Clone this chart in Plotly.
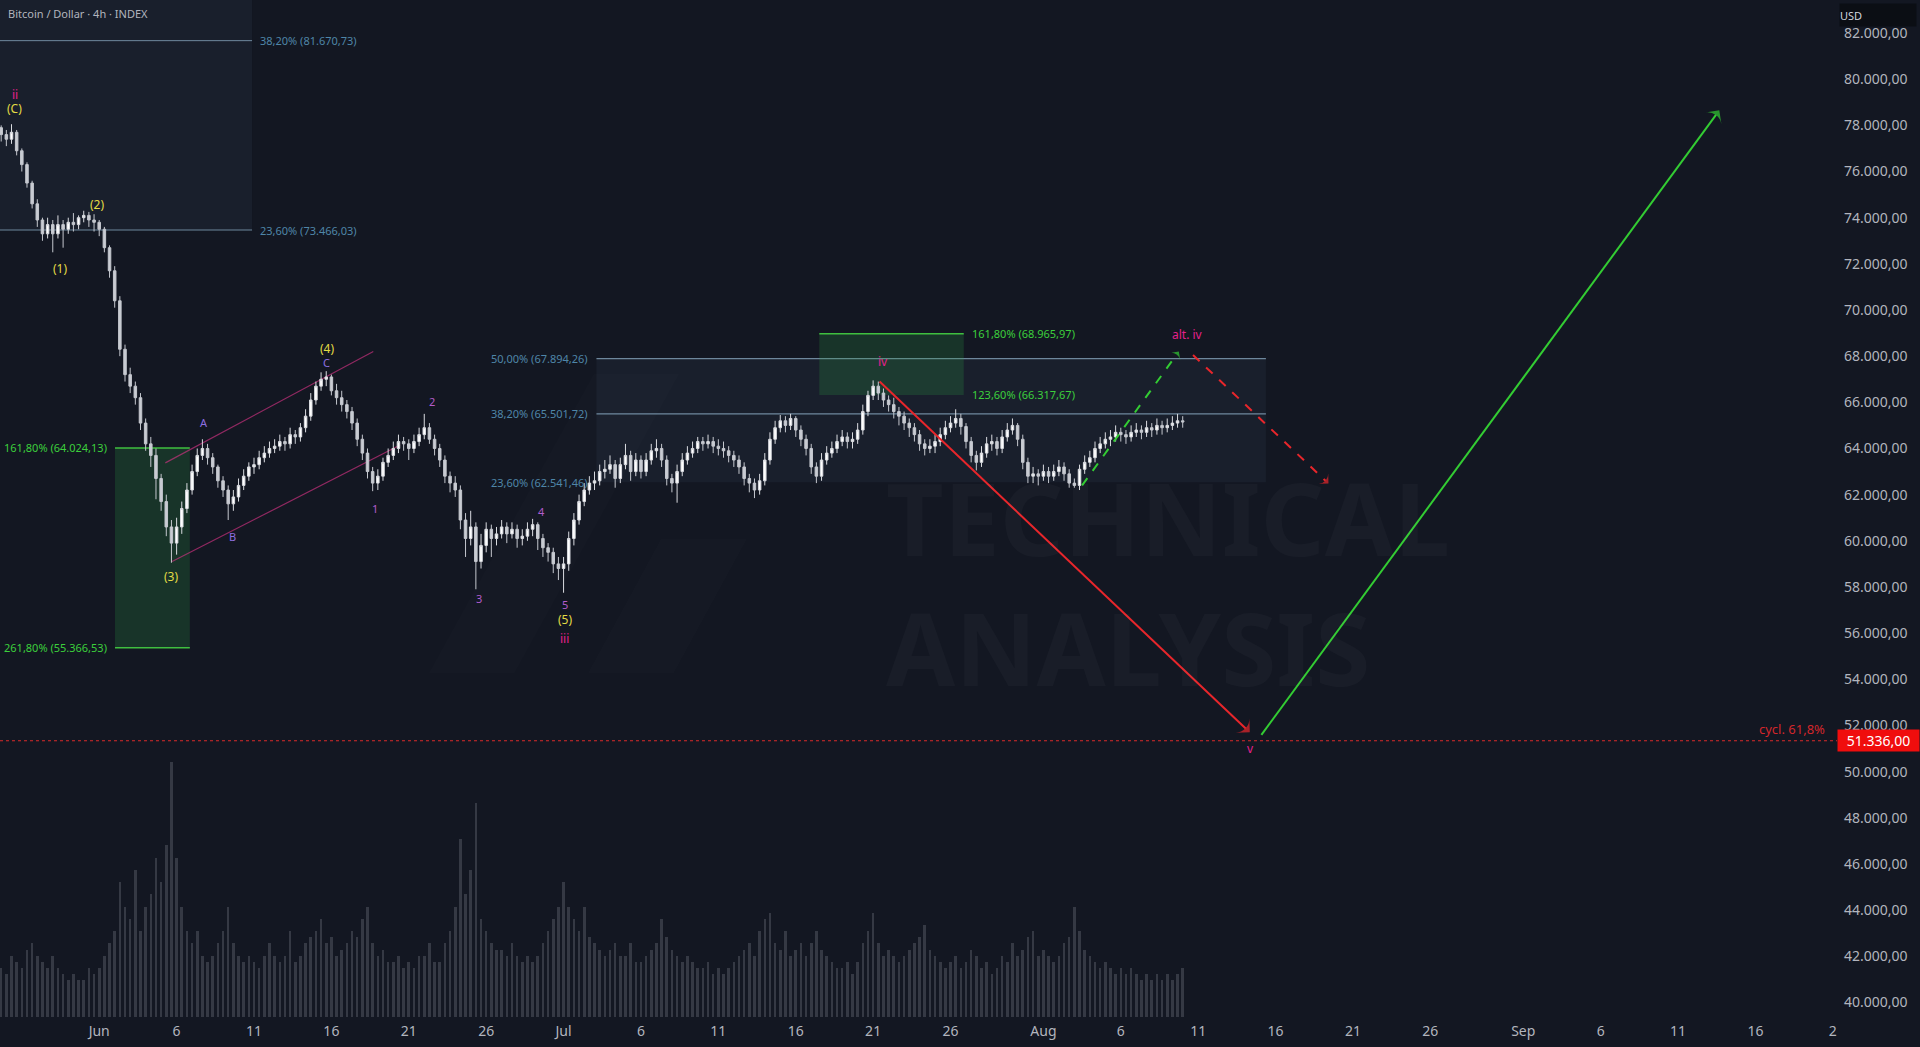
import plotly.graph_objects as go
import pandas as pd

BG = "#131722"
FONT = "Noto Sans"

title_text = "Bitcoin / Dollar · 4h · INDEX"
watermark_lines = ["TECHNICAL", "ANALYSIS"]

# ---------------- candle data (8h steps) ----------------
candle_start = "2024-05-25 16:00"
first_open = 77900
close = [
    77600,
    77400, 77700, 76900, 76300, 75500, 74600, 73900, 73300, 73700,
    73300, 73700, 73500, 73800, 73700, 74000, 74100, 73900, 73800,
    73500, 72700, 71700, 70400, 68300, 67200, 66700, 66200, 65100,
    64200, 63700, 62700, 61700, 60600, 59900, 60600, 61400, 62200,
    63000, 63700, 64000, 63600, 63200, 62600, 62200, 61600, 61900,
    62400, 62800, 63200, 63300, 63600, 63800, 64000, 64100, 64300,
    64200, 64600, 64500, 64900, 65400, 66100, 66700, 67000, 67100,
    66500, 66200, 65900, 65600, 65100, 64400, 63800, 63000, 62500,
    62800, 63400, 63700, 64000, 64300, 64200, 64000, 64300, 64600,
    64900, 64400, 64000, 63500, 62800, 62500, 62200, 60900, 60100,
    60600, 59100, 59800, 60500, 60100, 60300, 60600, 60300, 60500,
    60100, 60200, 60500, 60700, 60100, 59700, 59500, 59000, 58800,
    59000, 60100, 60900, 61700, 62200, 62500, 62600, 63000, 63100,
    63300, 62700, 63300, 63700, 63000, 63500, 63000, 63500, 63900,
    64000, 63500, 62700, 62500, 63000, 63500, 63800, 64000, 64300,
    64200, 64300, 64100, 64000, 63900, 63700, 63500, 63200, 62700,
    62500, 62200, 62600, 63500, 64400, 64900, 65200, 65000, 65300,
    64800, 64400, 64000, 63200, 62800, 63500, 63800, 64000, 64300,
    64500, 64300, 64400, 64800, 65600, 66300, 66700, 66400, 66100,
    65900, 65600, 65400, 65100, 64900, 64600, 64200, 64000, 64100,
    64300, 64600, 64900, 65100, 65300, 64950, 64300, 63700, 63400,
    63800, 64200, 64300, 64000, 64500, 64800, 65000, 64400, 63400,
    62800, 62900, 62800, 63000, 62800, 63000, 63200, 62900, 62500,
    62400, 63100, 63400, 63600, 64000, 64200, 64400, 64500, 64700,
    64600, 64500, 64700, 64800, 64700, 64900, 64800, 65000, 64900,
    65000, 65100, 65200,
    65150,
]
high = [
    78000,
    77800, 78050, 77800, 77000, 76400, 75600, 74800, 74000, 74000,
    73900, 74100, 73900, 74000, 74200, 74100, 74300, 74250, 74150,
    73900, 73600, 72800, 71900, 70600, 68500, 67500, 66900, 66400,
    65300, 64500, 64000, 62900, 62000, 60900, 61000, 61700, 62500,
    63300, 64000, 64400, 64200, 63800, 63300, 62800, 62400, 62200,
    62700, 63100, 63400, 63600, 63900, 64100, 64300, 64400, 64600,
    64500, 64900, 64800, 65100, 65700, 66400, 66900, 67300, 67350,
    67200, 66800, 66500, 66100, 65800, 65300, 64600, 64000, 63200,
    63100, 63600, 64000, 64300, 64600, 64500, 64400, 64600, 64900,
    65500, 65100, 64600, 64200, 63700, 63000, 62800, 62400, 61200,
    61300, 60800, 60300, 60800, 60700, 60600, 60900, 60800, 60800,
    60700, 60500, 60800, 60950, 60800, 60300, 59900, 59700, 59300,
    59300, 60400, 61200, 62000, 62500, 62800, 63000, 63300, 63500,
    63700, 63500, 63600, 64200, 63900, 63800, 63700, 63800, 64200,
    64400, 64200, 63700, 62900, 63300, 63800, 64100, 64300, 64500,
    64500, 64600, 64500, 64400, 64300, 64100, 63900, 63700, 63400,
    62900, 62700, 62900, 63800, 64700, 65200, 65450, 65400, 65500,
    65400, 65000, 64600, 64200, 63400, 63800, 64100, 64300, 64600,
    64800, 64700, 64700, 65100, 65900, 66500, 66950, 66900, 66600,
    66300, 66200, 65800, 65600, 65300, 65100, 64800, 64400, 64400,
    64600, 64900, 65200, 65400, 65700, 65500, 65100, 64500, 63900,
    64100, 64500, 64600, 64500, 64800, 65100, 65300, 65100, 64600,
    63600, 63200, 63100, 63300, 63200, 63300, 63500, 63400, 63100,
    62700, 63300, 63700, 63900, 64300, 64500, 64700, 64800, 65000,
    64900, 64800, 65000, 65100, 65000, 65200, 65100, 65300, 65200,
    65300, 65400, 65500,
    65400,
]
low = [
    77300,
    77100, 77200, 76700, 76000, 75300, 74400, 73600, 73000, 73100,
    72500, 73100, 72700, 73300, 73400, 73500, 73800, 73600, 73400,
    73200, 72500, 71400, 70100, 68000, 66900, 66400, 65900, 64800,
    63900, 63200, 61800, 61300, 60200, 59050, 59400, 60300, 61200,
    62000, 62800, 63500, 63300, 62900, 62300, 61900, 60900, 61300,
    61700, 62200, 62600, 62900, 63100, 63400, 63600, 63800, 63900,
    63900, 64000, 64200, 64300, 64700, 65200, 65900, 66500, 66700,
    66300, 65900, 65600, 65300, 64800, 64100, 63500, 62700, 62150,
    62200, 62600, 63200, 63500, 63800, 63900, 63500, 63800, 64100,
    64400, 64200, 63700, 63200, 62500, 62100, 61900, 60500, 59300,
    59800, 57900, 58800, 59500, 59300, 59800, 60100, 59900, 60100,
    59700, 59800, 60000, 60200, 59600, 59300, 59100, 58600, 58300,
    57750, 58700, 59800, 60700, 61500, 62000, 62200, 62400, 62700,
    62900, 62300, 62500, 63100, 62600, 62800, 62700, 62800, 63300,
    63600, 63200, 62400, 62100, 61650, 62800, 63300, 63600, 63800,
    63900, 64000, 63800, 63700, 63600, 63400, 63200, 62900, 62400,
    62100, 61850, 62000, 62400, 63300, 64200, 64700, 64700, 64800,
    64500, 64100, 63700, 62900, 62500, 62600, 63300, 63600, 63800,
    64100, 64000, 64000, 64200, 64600, 65400, 66100, 66100, 65800,
    65600, 65300, 65000, 64800, 64500, 64300, 63900, 63700, 63800,
    63800, 64100, 64400, 64700, 64900, 64600, 64000, 63400, 63050,
    63200, 63600, 63900, 63700, 63800, 64300, 64600, 64100, 63100,
    62500, 62500, 62400, 62600, 62500, 62600, 62800, 62600, 62300,
    62300, 62200, 62900, 63200, 63400, 63800, 64000, 64100, 64300,
    64300, 64200, 64300, 64500, 64400, 64500, 64500, 64600, 64600,
    64700, 64800, 64900,
    64900,
]
volume = [
    400,
    350, 500, 450, 400, 550, 600, 500, 450, 400,
    500, 400, 350, 300, 350, 300, 300, 400, 350,
    400, 500, 600, 700, 1100, 900, 800, 1200, 700,
    900, 1000, 1300, 1100, 1400, 2080, 1300, 900, 700,
    600, 700, 500, 450, 500, 600, 700, 900, 600,
    500, 450, 500, 450, 400, 500, 600, 500, 450,
    500, 700, 450, 500, 600, 650, 700, 800, 600,
    650, 500, 550, 600, 700, 650, 800, 900, 600,
    500, 550, 450, 450, 500, 400, 450, 400, 500,
    500, 600, 450, 450, 600, 700, 900, 1450, 1000,
    1200, 1750, 800, 700, 600, 550, 550, 500, 600,
    500, 450, 500, 450, 500, 600, 700, 800, 900,
    1100, 900, 800, 700, 900, 650, 600, 550, 500,
    550, 600, 500, 500, 600, 450, 450, 500, 550,
    600, 800, 650, 550, 500, 450, 500, 450, 400,
    400, 450, 350, 400, 350, 400, 450, 500, 550,
    600, 500, 700, 800, 850, 600, 550, 700, 500,
    550, 600, 500, 600, 700, 550, 500, 450, 400,
    400, 450, 350, 450, 600, 700, 850, 600, 500,
    550, 500, 450, 500, 550, 600, 650, 750, 550,
    500, 450, 400, 450, 500, 400, 450, 550, 500,
    400, 450, 350, 400, 500, 450, 600, 500, 550,
    650, 700, 500, 550, 500, 450, 500, 600, 650,
    900, 700, 550, 500, 450, 400, 450, 400, 350,
    400, 350, 400, 350, 300, 350, 300, 350, 300,
    350, 300, 350,
    400,
]

# ---------------- fibonacci / box levels ----------------
fib_top_labels = ["38,20% (81.670,73)", "23,60% (73.466,03)"]
fib_top_prices = [81670.73, 73466.03]
fib_top_x = ["2024-05-20 00:00", "2024-06-10 21:00"]

fib_mid_labels = ["50,00% (67.894,26)", "38,20% (65.501,72)", "23,60% (62.541,46)"]
fib_mid_prices = [67894.26, 65501.72, 62541.46]
fib_mid_x = ["2024-07-03 03:00", "2024-08-15 09:00"]

ext_left_labels = ["161,80% (64.024,13)", "261,80% (55.366,53)"]
ext_left_prices = [64024.13, 55366.53]
ext_left_x = ["2024-06-02 00:30", "2024-06-06 20:30"]

ext_mid_labels = ["161,80% (68.965,97)", "123,60% (66.317,67)"]
ext_mid_prices = [68965.97, 66317.67]
ext_mid_x = ["2024-07-17 12:30", "2024-07-26 20:30"]

# ---------------- channel ----------------
chan_up_x = ["2024-06-05 06:30", "2024-06-18 17:00"]
chan_up_y = [63376, 68200]
chan_lo_x = ["2024-06-05 17:00", "2024-06-20 10:30"]
chan_lo_y = [59100, 64150]

# ---------------- projections ----------------
proj_main_x = ["2024-07-21 10:00", "2024-08-14 08:00"]
proj_main_y = [66900, 51700]
proj_up_x = ["2024-08-15 02:00", "2024-09-13 16:00"]
proj_up_y = [51590, 78650]
alt_up_x = ["2024-08-03 12:00", "2024-08-09 18:00"]
alt_up_y = [62400, 68200]
alt_down_x = ["2024-08-10 16:00", "2024-08-19 10:00"]
alt_down_y = [68050, 62480]
target_price = 51336
target_text = "51.336,00"
target_note = "cycl. 61,8%"

# ---------------- wave labels ----------------
wave_text = ["ii", "(C)", "(1)", "(2)", "(3)", "A", "B", "(4)", "C", "1", "2", "3", "4", "5",
             "(5)", "iii", "iv", "alt. iv", "v"]
wave_x = ["2024-05-26 13:00", "2024-05-26 13:00", "2024-05-29 11:00", "2024-05-31 20:00",
          "2024-06-05 16:00", "2024-06-07 19:00", "2024-06-09 15:00", "2024-06-15 17:00",
          "2024-06-15 17:00", "2024-06-18 19:00", "2024-06-22 12:30", "2024-06-25 12:30",
          "2024-06-29 13:30", "2024-07-01 01:30", "2024-07-01 01:30", "2024-07-01 01:30",
          "2024-07-21 15:00", "2024-08-10 08:00", "2024-08-14 09:00"]
wave_y = [79347, 78710, 71813, 74572, 58442, 65127, 60192, 68311, 67727, 61413, 66030,
          57487, 61254, 57221, 56584, 55788, 67780, 68947, 51013]
wave_kind = ["roman", "paren", "paren", "paren", "paren", "abc", "abc", "paren", "abc",
             "digit", "digit", "digit", "digit", "digit", "paren", "roman", "roman", "roman", "roman"]

# ---------------- axes ----------------
X_LEFT = "2024-05-25 14:10"
X_RIGHT = "2024-09-21 06:30"
Y_BOTTOM = 39367
Y_TOP = 83432
x_tick_dates = ["2024-05-26", "2024-06-01", "2024-06-06", "2024-06-11", "2024-06-16", "2024-06-21",
                "2024-06-26", "2024-07-01", "2024-07-06", "2024-07-11", "2024-07-16", "2024-07-21",
                "2024-07-26", "2024-08-01", "2024-08-06", "2024-08-11", "2024-08-16", "2024-08-21",
                "2024-08-26", "2024-09-01", "2024-09-06", "2024-09-11", "2024-09-16", "2024-09-21"]
x_tick_text = ["26", "Jun", "6", "11", "16", "21", "26", "Jul", "6", "11", "16", "21", "26",
               "Aug", "6", "11", "16", "21", "26", "Sep", "6", "11", "16", "2"]
y_tick_vals = list(range(40000, 84000, 2000))


def eu(v):
    return f"{v:,.2f}".replace(",", "X").replace(".", ",").replace("X", ".")


y_tick_text = [eu(v) for v in y_tick_vals]

# ---------------- build ----------------
n = min(len(close), len(high), len(low), len(volume))
times = pd.date_range(candle_start, periods=n, freq="8h")
opens = [first_open] + close[:n - 1]

fig = go.Figure()

fig.add_trace(go.Bar(
    x=times, y=volume[:n], yaxis="y2",
    marker=dict(color="rgba(120,124,136,0.34)", line=dict(width=0)),
    width=8 * 3600 * 1000 * 0.5, hoverinfo="skip",
))

fig.add_trace(go.Candlestick(
    x=times, open=opens, high=high[:n], low=low[:n], close=close[:n],
    increasing=dict(line=dict(color="#d9dbe0", width=1), fillcolor="#ffffff"),
    decreasing=dict(line=dict(color="#c4c7ce", width=1), fillcolor="#c9ccd3"),
    whiskerwidth=0, hoverinfo="skip",
))

GREEN = "#33cc33"
RED = "#e8262b"


def arrow_line(xs, ys, color, dash, width, size):
    fig.add_trace(go.Scatter(
        x=xs, y=ys, mode="lines+markers",
        line=dict(color=color, width=width, dash=dash),
        marker=dict(symbol=["circle", "arrow-wide"], size=[0, size], color=color,
                    angleref="previous", line=dict(width=0)),
        hoverinfo="skip",
    ))


arrow_line(proj_main_x, proj_main_y, RED, "solid", 2, 14)
arrow_line(proj_up_x, proj_up_y, GREEN, "solid", 2, 14)
arrow_line(alt_up_x, alt_up_y, GREEN, "dash", 2, 9)
arrow_line(alt_down_x, alt_down_y, RED, "dash", 2, 10)

shapes = []
FIB_LINE = "rgba(140,172,196,0.75)"
FIB_FILL = "rgba(110,145,190,0.07)"
GREEN_FILL = "rgba(46,160,67,0.22)"

# top-left fib zone
shapes.append(dict(type="rect", xref="x", yref="y", x0=fib_top_x[0], x1=fib_top_x[1],
                   y0=fib_top_prices[1], y1=Y_TOP, fillcolor=FIB_FILL, line=dict(width=0), layer="below"))
for p in fib_top_prices:
    shapes.append(dict(type="line", xref="x", yref="y", x0=fib_top_x[0], x1=fib_top_x[1], y0=p, y1=p,
                       line=dict(color=FIB_LINE, width=1), layer="below"))
# middle fib zone
shapes.append(dict(type="rect", xref="x", yref="y", x0=fib_mid_x[0], x1=fib_mid_x[1],
                   y0=fib_mid_prices[2], y1=fib_mid_prices[0], fillcolor=FIB_FILL, line=dict(width=0), layer="below"))
for p in fib_mid_prices[:2]:
    shapes.append(dict(type="line", xref="x", yref="y", x0=fib_mid_x[0], x1=fib_mid_x[1], y0=p, y1=p,
                       line=dict(color=FIB_LINE, width=1.2), layer="below"))
# green boxes
shapes.append(dict(type="rect", xref="x", yref="y", x0=ext_left_x[0], x1=ext_left_x[1],
                   y0=ext_left_prices[1], y1=ext_left_prices[0], fillcolor=GREEN_FILL, line=dict(width=0), layer="below"))
for p in ext_left_prices:
    shapes.append(dict(type="line", xref="x", yref="y", x0=ext_left_x[0], x1=ext_left_x[1], y0=p, y1=p,
                       line=dict(color="#3fbf3f", width=1.5), layer="below"))
shapes.append(dict(type="rect", xref="x", yref="y", x0=ext_mid_x[0], x1=ext_mid_x[1],
                   y0=ext_mid_prices[1], y1=ext_mid_prices[0], fillcolor=GREEN_FILL, line=dict(width=0), layer="below"))
shapes.append(dict(type="line", xref="x", yref="y", x0=ext_mid_x[0], x1=ext_mid_x[1],
                   y0=ext_mid_prices[0], y1=ext_mid_prices[0], line=dict(color="#3fbf3f", width=1.5), layer="below"))
# channel
for cx, cy in ((chan_up_x, chan_up_y), (chan_lo_x, chan_lo_y)):
    shapes.append(dict(type="line", xref="x", yref="y", x0=cx[0], x1=cx[1], y0=cy[0], y1=cy[1],
                       line=dict(color="rgba(214,51,132,0.65)", width=1.2), layer="below"))
# target line
shapes.append(dict(type="line", xref="paper", yref="y", x0=0, x1=1, y0=target_price, y1=target_price,
                   line=dict(color="#d92b2b", width=1, dash="dot"), layer="above"))
# faint logo watermark
shapes.append(dict(type="path", xref="paper", yref="paper",
                   path="M0.2333,0.3378 L0.2800,0.3378 L0.3699,0.6327 L0.3233,0.6327 Z",
                   fillcolor="rgba(255,255,255,0.012)", line=dict(width=0), layer="below"))
shapes.append(dict(type="path", xref="paper", yref="paper",
                   path="M0.3200,0.3378 L0.3666,0.3378 L0.4066,0.4702 L0.3599,0.4702 Z",
                   fillcolor="rgba(255,255,255,0.012)", line=dict(width=0), layer="below"))

ann = []
FIB_TXT = "#4f86a8"
GREEN_TXT = "#3ccf3c"
for t, p in zip(fib_top_labels, fib_top_prices):
    ann.append(dict(x=fib_top_x[1], y=p, xref="x", yref="y", text=t, showarrow=False,
                    xanchor="left", xshift=6, font=dict(color=FIB_TXT, size=11, family=FONT)))
for t, p in zip(fib_mid_labels, fib_mid_prices):
    ann.append(dict(x=fib_mid_x[0], y=p, xref="x", yref="y", text=t, showarrow=False,
                    xanchor="right", xshift=-6, font=dict(color=FIB_TXT, size=11, family=FONT)))
for t, p in zip(ext_left_labels, ext_left_prices):
    ann.append(dict(x=ext_left_x[0], y=p, xref="x", yref="y", text=t, showarrow=False,
                    xanchor="right", xshift=-6, font=dict(color=GREEN_TXT, size=11, family=FONT)))
for t, p in zip(ext_mid_labels, ext_mid_prices):
    ann.append(dict(x=ext_mid_x[1], y=p, xref="x", yref="y", text=t, showarrow=False,
                    xanchor="left", xshift=6, font=dict(color=GREEN_TXT, size=11, family=FONT)))

kind_color = {"roman": "#e4208c", "paren": "#e3dc45", "abc": "#8e6fe0", "digit": "#b25ccc"}
for t, x, y, k in zip(wave_text, wave_x, wave_y, wave_kind):
    ann.append(dict(x=x, y=y, xref="x", yref="y", text=t, showarrow=False,
                    font=dict(color=kind_color[k], size=12 if k in ("roman", "paren") else 11, family=FONT)))

# watermark: one two-line text
ann.append(dict(x=0.481, y=0.428, xref="paper", yref="paper",
                text="<b>" + "<br>".join(watermark_lines) + "</b>", showarrow=False,
                xanchor="left", yanchor="middle", align="left",
                font=dict(color="rgba(255,255,255,0.028)", size=100, family=FONT)))

# target tag & note
ann.append(dict(x=1, y=target_price, xref="paper", yref="y", text=target_text, showarrow=False,
                xanchor="left", yanchor="middle", bgcolor="#f00d0d", width=79, height=19, align="center",
                borderpad=1, font=dict(color="#ffffff", size=14, family=FONT)))
ann.append(dict(x=0.9946, y=target_price, xref="paper", yref="y", text=target_note, showarrow=False,
                xanchor="right", yanchor="bottom", yshift=1, font=dict(color="#d2262b", size=13, family=FONT)))

# header texts
ann.append(dict(x=0.003, y=1, xref="paper", yref="paper", text=title_text, showarrow=False,
                xanchor="left", yanchor="top", yshift=-4, font=dict(color="#b2b5be", size=11, family=FONT)))
ann.append(dict(x=1, y=1, xref="paper", yref="paper", text="USD", showarrow=False,
                xanchor="left", yanchor="top", xshift=2, yshift=-3, width=76, height=22, align="left",
                bgcolor="#0b0e14", borderpad=0, font=dict(color="#d1d4dc", size=11, family=FONT)))

fig.update_layout(
    width=1920, height=1047, autosize=False,
    paper_bgcolor=BG, plot_bgcolor=BG,
    margin=dict(l=0, r=83, t=0, b=30, pad=0, autoexpand=False),
    showlegend=False,
    font=dict(family=FONT, color="#b2b5be"),
    shapes=shapes, annotations=ann,
    xaxis=dict(type="date", range=[X_LEFT, X_RIGHT], showgrid=False, zeroline=False, showline=False,
               tickvals=x_tick_dates, ticktext=x_tick_text, ticks="", ticklabelstandoff=4,
               tickfont=dict(color="#b2b5be", size=14, family=FONT),
               rangeslider=dict(visible=False), automargin=False, fixedrange=True),
    yaxis=dict(side="right", range=[Y_BOTTOM, Y_TOP], showgrid=False, zeroline=False, showline=False,
               tickvals=y_tick_vals, ticktext=y_tick_text, ticks="", ticklabelstandoff=6,
               tickfont=dict(color="#b2b5be", size=14, family=FONT), automargin=False, fixedrange=True),
    yaxis2=dict(overlaying="y", range=[0, 8300], visible=False, fixedrange=True),
    bargap=0,
)

fig.write_html("out.html", include_plotlyjs=True, config={"displayModeBar": False},
               post_script="document.body.style.margin='0';document.body.style.overflow='hidden';")
